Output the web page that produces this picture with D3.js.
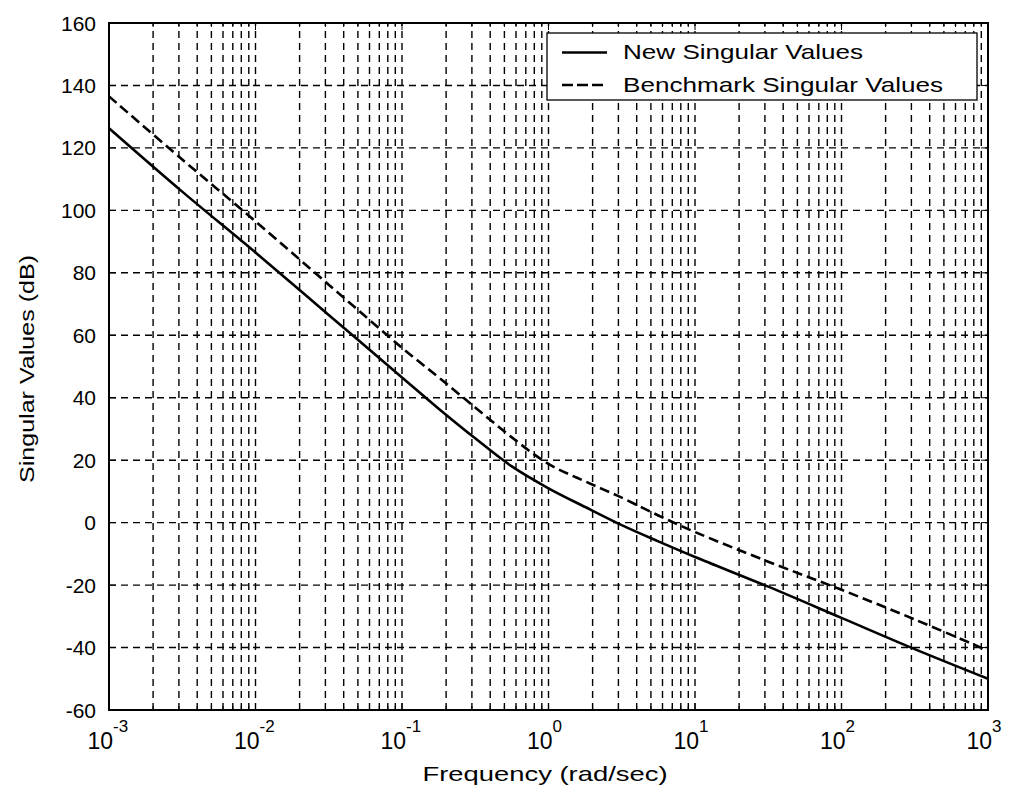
<!DOCTYPE html>
<html>
<head>
<meta charset="utf-8">
<script src="https://cdn.jsdelivr.net/npm/d3@7"></script>
<style>
  body { margin: 0; background: #fff; }
  text { font-family: "Liberation Sans", Arial, sans-serif; fill: #000; }
</style>
</head>
<body>
<script>
// frequency points (rad/sec) and the two singular value curves (dB)
const freq = [1e-3, 3.16e-3, 1e-2, 3.16e-2, 1e-1, 0.178, 0.316, 0.562, 1, 1.78, 3.16, 5.62, 10, 31.6, 100, 316, 1000];
const newSV = [126.3, 106, 86.5, 66.5, 46.5, 36.5, 27, 18, 11, 5, -0.8, -6, -11, -20.5, -30.5, -40.5, -50];
const benchSV = [136.5, 116.3, 96.5, 76.2, 56, 46.5, 36.9, 27.3, 18.8, 13.2, 8, 2.3, -3, -12.5, -21.5, -31, -41];

const yTicks = [160, 140, 120, 100, 80, 60, 40, 20, 0, -20, -40, -60];
const xExp = [-3, -2, -1, 0, 1, 2, 3];
const seriesNames = ["New Singular Values", "Benchmark Singular Values"];

const W = 1010, H = 793;
const L = 109, R = 988, T = 23, B = 710;

const svg = d3.select("body").append("svg")
  .attr("width", W)
  .attr("height", H);

const x = d3.scaleLog().domain([1e-3, 1e3]).range([L, R]);
const y = d3.scaleLinear().domain([-60, 160]).range([B, T]);

// minor + major decade positions
const xGrid = [];
for (let e = -3; e < 3; e++) {
  for (let m = 1; m < 10; m++) xGrid.push(m * Math.pow(10, e));
}
xGrid.push(1000);

const grid = svg.append("g")
  .attr("stroke", "#000")
  .attr("stroke-width", 1.4)
  .attr("stroke-dasharray", "7,5");

grid.selectAll("line.v")
  .data(xGrid.filter(d => d > 1e-3 && d < 1e3))
  .enter().append("line")
  .attr("x1", d => x(d)).attr("x2", d => x(d))
  .attr("y1", B).attr("y2", T);

grid.selectAll("line.h")
  .data(yTicks.filter(d => d > -60 && d < 160))
  .enter().append("line")
  .attr("x1", L).attr("x2", R)
  .attr("y1", d => y(d)).attr("y2", d => y(d));

// ticks inside on all sides
const ticks = svg.append("g").attr("stroke", "#000").attr("stroke-width", 1);
xGrid.forEach(d => {
  const len = Number.isInteger(Math.log10(d)) ? 7 : 4;
  ticks.append("line").attr("x1", x(d)).attr("x2", x(d)).attr("y1", B).attr("y2", B - len);
  ticks.append("line").attr("x1", x(d)).attr("x2", x(d)).attr("y1", T).attr("y2", T + len);
});
yTicks.forEach(d => {
  ticks.append("line").attr("x1", L).attr("x2", L + 7).attr("y1", y(d)).attr("y2", y(d));
  ticks.append("line").attr("x1", R).attr("x2", R - 7).attr("y1", y(d)).attr("y2", y(d));
});

// curves
const line = d3.line()
  .x((d, i) => x(freq[i]))
  .y(d => y(d))
  .curve(d3.curveCatmullRom.alpha(0.5));

svg.append("path")
  .datum(newSV)
  .attr("d", line)
  .attr("fill", "none")
  .attr("stroke", "#000")
  .attr("stroke-width", 2.6);

svg.append("path")
  .datum(benchSV)
  .attr("d", line)
  .attr("fill", "none")
  .attr("stroke", "#000")
  .attr("stroke-width", 2.6)
  .attr("stroke-dasharray", "10,5");

// axes box
svg.append("rect")
  .attr("x", L).attr("y", T)
  .attr("width", R - L).attr("height", B - T)
  .attr("fill", "none")
  .attr("stroke", "#000")
  .attr("stroke-width", 2);

// y tick labels
svg.selectAll("text.ylab")
  .data(yTicks)
  .enter().append("text")
  .attr("x", 96)
  .attr("y", d => y(d))
  .attr("dy", "0.36em")
  .attr("text-anchor", "end")
  .attr("font-size", 21)
  .text(d => d);

// x tick labels 10^n
xExp.forEach(e => {
  const px = x(Math.pow(10, e));
  svg.append("text")
    .attr("x", px + 4).attr("y", 749)
    .attr("text-anchor", "end")
    .attr("font-size", 23)
    .text("10");
  svg.append("text")
    .attr("x", px + 4).attr("y", 732)
    .attr("font-size", 17)
    .text(e);
});

// axis titles
svg.append("text")
  .attr("x", 545).attr("y", 781)
  .attr("text-anchor", "middle")
  .attr("font-size", 21)
  .attr("textLength", 245)
  .attr("lengthAdjust", "spacingAndGlyphs")
  .text("Frequency (rad/sec)");

svg.append("text")
  .attr("transform", "translate(34,369) rotate(-90)")
  .attr("text-anchor", "middle")
  .attr("font-size", 21)
  .attr("textLength", 228)
  .attr("lengthAdjust", "spacingAndGlyphs")
  .text("Singular Values (dB)");

// legend
const lg = svg.append("g");
lg.append("rect")
  .attr("x", 547).attr("y", 33)
  .attr("width", 430).attr("height", 67)
  .attr("fill", "#fff")
  .attr("stroke", "#000")
  .attr("stroke-width", 1.3);

const legendRows = [
  { name: seriesNames[0], dash: null, ly: 52.5, ty: 59, w: 240 },
  { name: seriesNames[1], dash: "11,4", ly: 85, ty: 91.5, w: 320 }
];
legendRows.forEach(r => {
  lg.append("line")
    .attr("x1", 562).attr("x2", 607)
    .attr("y1", r.ly).attr("y2", r.ly)
    .attr("stroke", "#000")
    .attr("stroke-width", 2.6)
    .attr("stroke-dasharray", r.dash);
  lg.append("text")
    .attr("x", 623).attr("y", r.ty)
    .attr("font-size", 21)
    .attr("textLength", r.w)
    .attr("lengthAdjust", "spacingAndGlyphs")
    .text(r.name);
});
</script>
</body>
</html>
